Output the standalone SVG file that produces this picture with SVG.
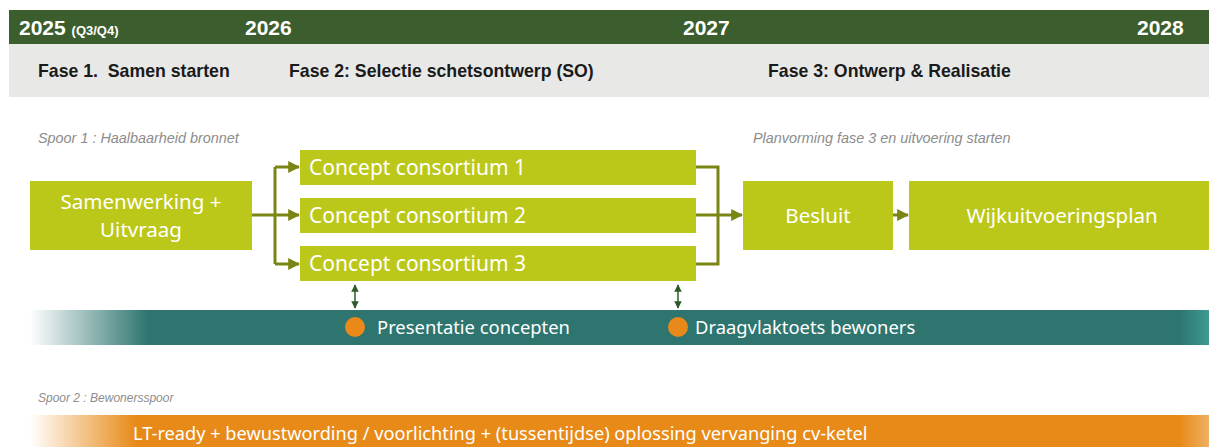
<svg xmlns="http://www.w3.org/2000/svg" width="1209" height="447" viewBox="0 0 1209 447">
<style>
.hdr{font-family:"Liberation Sans",Arial,sans-serif;font-weight:bold;fill:#ffffff}
.fase{font-family:"Liberation Sans",Arial,sans-serif;font-weight:bold;font-size:17.7px;fill:#1a1a1a}
.note{font-family:"Liberation Sans",Arial,sans-serif;font-style:italic;font-size:14.4px;fill:#8c8c8c}
.box{fill:#bcc819}
.bt{font-family:"Noto Sans",sans-serif;font-size:20.5px;fill:#ffffff}
.lt{font-family:"Noto Sans",sans-serif;font-size:18.4px;fill:#ffffff}
.con{fill:none;stroke:#7a8514;stroke-width:3}
.dbl{fill:none;stroke:#2e5a2a;stroke-width:1.5}
</style>
<defs>
<marker id="ah" viewBox="0 0 10 10" refX="9" refY="5" markerWidth="4" markerHeight="4" orient="auto" markerUnits="strokeWidth">
<path d="M0,0 L10,5 L0,10 z" fill="#7a8514"/>
</marker>
<marker id="dh" viewBox="0 0 10 10" refX="9" refY="5" markerWidth="5" markerHeight="5" orient="auto-start-reverse" markerUnits="strokeWidth">
<path d="M0,0 L10,5 L0,10 z" fill="#2e5a2a"/>
</marker>
<linearGradient id="gt" x1="30" y1="0" x2="1209" y2="0" gradientUnits="userSpaceOnUse">
<stop offset="0" stop-color="#2e7570" stop-opacity="0"/>
<stop offset="0.1" stop-color="#2e7570" stop-opacity="1"/>
<stop offset="0.975" stop-color="#2e7570"/>
<stop offset="1" stop-color="#3d9a92"/>
</linearGradient>
<linearGradient id="go" x1="30" y1="0" x2="1209" y2="0" gradientUnits="userSpaceOnUse">
<stop offset="0" stop-color="#e88a18" stop-opacity="0"/>
<stop offset="0.09" stop-color="#e88a18" stop-opacity="1"/>
<stop offset="0.975" stop-color="#e88a18"/>
<stop offset="1" stop-color="#efb062"/>
</linearGradient>
</defs>
<rect width="1209" height="447" fill="#ffffff"/>
<g id="timeline">
<rect x="9" y="10" width="1200" height="34" fill="#3c5e2e"/>
<text x="19" y="35" class="hdr" font-size="21">2025 <tspan font-size="13">(Q3/Q4)</tspan></text>
<text x="245" y="35" class="hdr" font-size="21">2026</text>
<text x="683" y="35" class="hdr" font-size="21">2027</text>
<text x="1137" y="35" class="hdr" font-size="21">2028</text>
</g>
<g id="phases">
<rect x="9" y="44" width="1200" height="53" fill="#e8e9e7"/>
<text x="38" y="77" class="fase" xml:space="preserve">Fase 1.  Samen starten</text>
<text x="289" y="77" class="fase">Fase 2: Selectie schetsontwerp (SO)</text>
<text x="768" y="77" class="fase">Fase 3: Ontwerp &amp; Realisatie</text>
</g>
<text x="38" y="143" class="note">Spoor 1 : Haalbaarheid bronnet</text>
<text x="753" y="143" class="note">Planvorming fase 3 en uitvoering starten</text>
<g id="connectors">
<path class="con" d="M252,215 H275 M275,167 V264"/>
<path class="con" d="M275,167 H299" marker-end="url(#ah)"/>
<path class="con" d="M275,215 H299" marker-end="url(#ah)"/>
<path class="con" d="M275,264 H299" marker-end="url(#ah)"/>
<path class="con" d="M696,167 H718 V264 H696 M696,215 H718"/>
<path class="con" d="M718,215 H742" marker-end="url(#ah)"/>
<path class="con" d="M893,215 H908" marker-end="url(#ah)"/>
<path class="dbl" d="M355,285 V308" marker-start="url(#dh)" marker-end="url(#dh)"/>
<path class="dbl" d="M678,285 V308" marker-start="url(#dh)" marker-end="url(#dh)"/>
</g>
<g id="samenwerking">
<rect x="30" y="181" width="222" height="69" class="box"/>
<text x="141" y="209" class="bt" text-anchor="middle">Samenwerking +</text>
<text x="141" y="237" class="bt" text-anchor="middle">Uitvraag</text>
</g>
<g id="concept1">
<rect x="300" y="150" width="396" height="35" class="box"/>
<text x="309" y="175" class="bt" style="font-size:21px">Concept consortium 1</text>
</g>
<g id="concept2">
<rect x="300" y="198" width="396" height="35" class="box"/>
<text x="309" y="223" class="bt" style="font-size:21px">Concept consortium 2</text>
</g>
<g id="concept3">
<rect x="300" y="246" width="396" height="35" class="box"/>
<text x="309" y="271" class="bt" style="font-size:21px">Concept consortium 3</text>
</g>
<g id="besluit">
<rect x="743" y="181" width="150" height="69" class="box"/>
<text x="818" y="223" class="bt" text-anchor="middle">Besluit</text>
</g>
<g id="wijkuitvoeringsplan">
<rect x="909" y="181" width="300" height="69" class="box"/>
<text x="1062" y="223" class="bt" text-anchor="middle">Wijkuitvoeringsplan</text>
</g>
<g id="spoor1bar">
<rect x="30" y="310" width="1179" height="35" fill="url(#gt)"/>
<circle cx="355" cy="327" r="10" fill="#e8891a"/>
<text x="377" y="334" class="lt">Presentatie concepten</text>
<circle cx="678" cy="327" r="10" fill="#e8891a"/>
<text x="695" y="334" class="lt">Draagvlaktoets bewoners</text>
</g>
<text x="38" y="402" class="note" style="font-size:12px">Spoor 2 : Bewonersspoor</text>
<g id="spoor2bar">
<rect x="30" y="415" width="1179" height="32" fill="url(#go)"/>
<text x="133" y="440" class="lt" style="font-size:18.2px">LT-ready + bewustwording / voorlichting + (tussentijdse) oplossing vervanging cv-ketel</text>
</g>
</svg>
